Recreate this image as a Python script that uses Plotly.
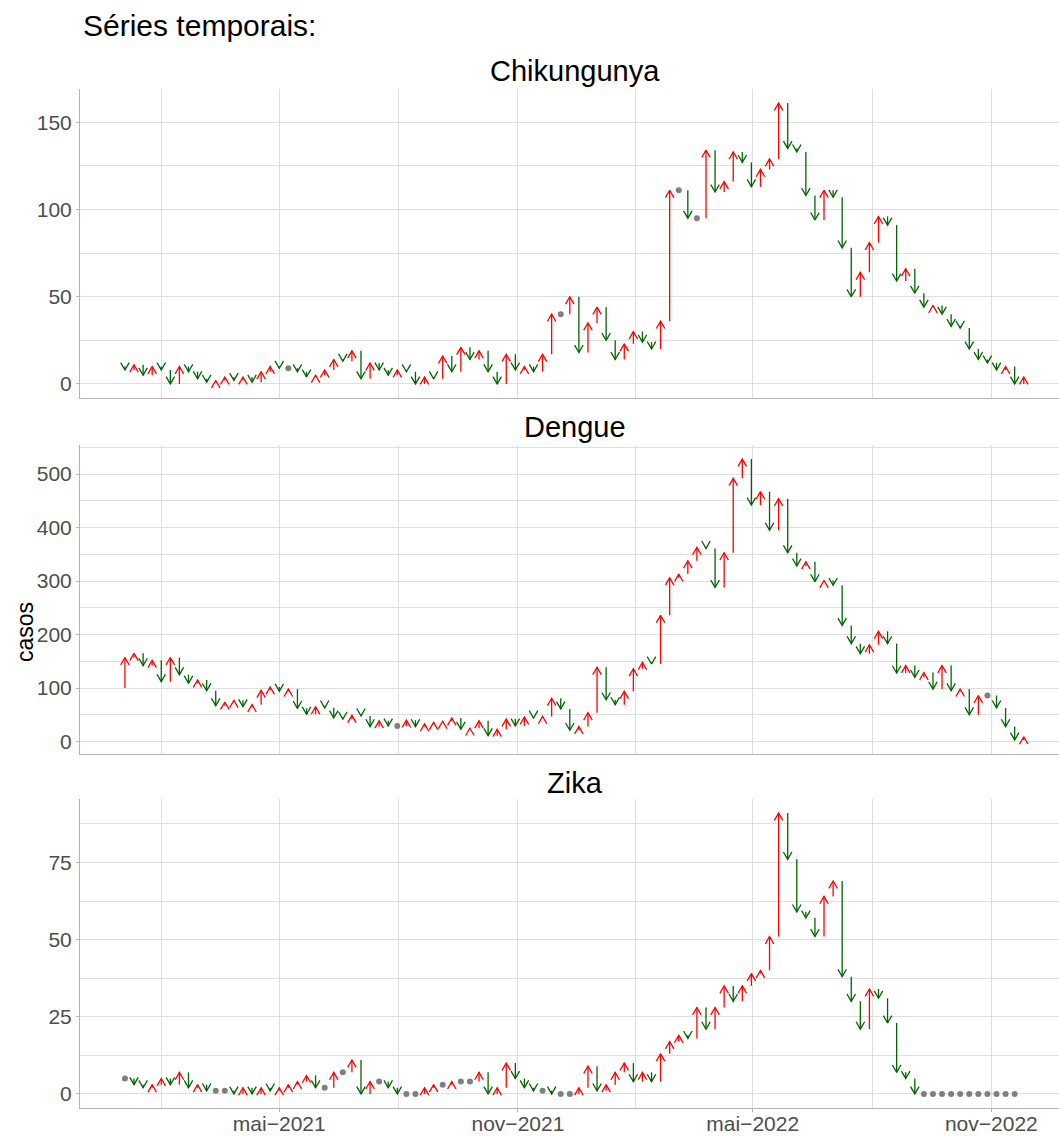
import math
import pandas as pd
import plotly.graph_objects as go

# ---------------- DATA ----------------
# Weekly dates (Saturday closing each epidemiological week).
# The first entry is the week before the chart starts: it only supplies the tail of the first arrow.
semanas = pd.date_range("2020-12-26", periods=101, freq="7D")

chikungunya = [10,
    8, 11, 5, 10, 8, 0, 10, 7, 3, 1,
    2, 4, 2, 4, 1, 7, 10, 9, 9, 7,
    4, 5, 8, 14, 13, 19, 3, 12, 8, 5,
    8, 7, 0, 4, 3, 16, 7, 21, 14, 19,
    7, 0, 17, 8, 10, 7, 17, 40, 40, 50,
    18, 35, 44, 25, 14, 23, 30, 24, 20, 36,
    111, 111, 95, 95, 134, 110, 116, 133, 127, 113,
    123, 129, 161, 135, 133, 108, 94, 111, 107, 78,
    50, 64, 81, 96, 91, 59, 66, 52, 44, 45,
    40, 33, 32, 20, 14, 12, 8, 10, 0, 4]

dengue = [100,
    157, 165, 142, 152, 112, 157, 125, 109, 115, 95,
    67, 74, 77, 65, 69, 96, 102, 94, 98, 62,
    51, 65, 63, 44, 42, 49, 48, 28, 39, 29,
    29, 40, 28, 33, 36, 38, 44, 23, 25, 39,
    11, 23, 42, 29, 46, 44, 47, 81, 61, 21,
    28, 54, 139, 78, 69, 94, 136, 148, 145, 236,
    306, 313, 338, 363, 361, 288, 353, 492, 528, 442,
    467, 395, 454, 353, 328, 336, 299, 301, 292, 217,
    183, 164, 181, 206, 183, 128, 142, 120, 129, 98,
    142, 95, 98, 50, 86, 86, 63, 28, 3, 9]

zika = [5,
    5, 3, 2, 3, 5, 3, 7, 2, 3, 1,
    1, 1, 0, 2, 0, 2, 1, 2, 3, 4,
    6, 2, 2, 7, 7, 11, 0, 4, 4, 2,
    0, 0, 0, 2, 3, 3, 4, 4, 4, 7,
    0, 2, 10, 5, 2, 1, 1, 0, 0, 0,
    2, 9, 1, 3, 7, 10, 4, 7, 4, 13,
    17, 19, 18, 28, 21, 28, 35, 30, 35, 39,
    40, 51, 91, 76, 59, 57, 51, 64, 69, 38,
    30, 21, 34, 31, 23, 7, 5, 0, 0, 0,
    0, 0, 0, 0, 0, 0, 0, 0, 0, None]

doencas = ["Chikungunya", "Dengue", "Zika"]
series = [chikungunya, dengue, zika]

y_tick_vals = [[0, 50, 100, 150], [0, 100, 200, 300, 400, 500], [0, 25, 50, 75]]
y_minor_step = [25, 50, 12.5]

x_tick_vals = ["2021-05-01", "2021-11-01", "2022-05-01", "2022-11-01"]
x_tick_text = ["mai\u22122021", "nov\u22122021", "mai\u22122022", "nov\u22122022"]
x_minor_vals = ["2021-01-30 12:00", "2021-08-01", "2022-01-30 12:00", "2022-08-01"]

titulo = "Séries temporais:"
y_titulo = "casos"

# ---------------- STYLE / LAYOUT ----------------
W, H = 1059, 1136
ML, MR, MT, MB = 80, 0, 89, 28
PW, PH = W - ML - MR, H - MT - MB
panel_px = [(89, 398), (445, 754), (799, 1108)]  # (top, bottom) in pixels
FONT = "Liberation Sans, Arial, Helvetica, sans-serif"
RED, GREEN, GREY = "#FF0000", "#006400", "#7F7F7F"
GRID = "#DFDFDF"
AXLINE = "#B3B3B3"

# x range: ggplot-like 5% expansion, right side cropped by the picture edge
dates = semanas[1:]
span = dates[-1] - dates[0]
xr0 = dates[0] - 0.05 * span
full_right = dates[-1] + 0.05 * span
xr1 = xr0 + (full_right - xr0) * 0.9902
px_per_ms = PW / ((xr1 - xr0).total_seconds() * 1000)

HEAD = 8.5  # arrow head length in px, 30 degree angle
hh_px = HEAD * math.cos(math.radians(30))
hw_px = HEAD * math.sin(math.radians(30))
hw = pd.Timedelta(milliseconds=hw_px / px_per_ms)

fig = go.Figure()


def iso(t):
    return t.strftime("%Y-%m-%d %H:%M:%S.%f")


for p, (nome, vals) in enumerate(zip(doencas, series), start=1):
    top, bot = panel_px[p - 1]
    valid = [v for v in vals if v is not None]
    lo, hi = min(valid), max(valid)
    yr0, yr1 = lo - 0.05 * (hi - lo), hi + 0.05 * (hi - lo)
    px_per_unit = (bot - top) / (yr1 - yr0)
    hh = hh_px / px_per_unit

    ux, uy, dx, dy, ex, ey = [], [], [], [], [], []
    for d, a, b in zip(dates, vals[:-1], vals[1:]):
        if a is None or b is None:
            continue
        if b > a:
            ux += [iso(d), iso(d), None, iso(d - hw), iso(d), iso(d + hw), None]
            uy += [a, b, None, b - hh, b, b - hh, None]
        elif b < a:
            dx += [iso(d), iso(d), None, iso(d - hw), iso(d), iso(d + hw), None]
            dy += [a, b, None, b + hh, b, b + hh, None]
        else:
            ex.append(iso(d))
            ey.append(b)

    xa = "x" if p == 1 else f"x{p}"
    ya = "y" if p == 1 else f"y{p}"
    fig.add_trace(go.Scatter(x=ux, y=uy, mode="lines", xaxis=xa, yaxis=ya,
                             line=dict(color=RED, width=1.3), hoverinfo="skip", showlegend=False))
    fig.add_trace(go.Scatter(x=dx, y=dy, mode="lines", xaxis=xa, yaxis=ya,
                             line=dict(color=GREEN, width=1.3), hoverinfo="skip", showlegend=False))
    fig.add_trace(go.Scatter(x=ex, y=ey, mode="markers", xaxis=xa, yaxis=ya,
                             marker=dict(color=GREY, size=6), hoverinfo="skip", showlegend=False))

    dom = [(H - MB - bot) / PH, (H - MB - top) / PH]
    bottom_panel = p == len(doencas)
    xkey = "xaxis" if p == 1 else f"xaxis{p}"
    ykey = "yaxis" if p == 1 else f"yaxis{p}"
    fig.layout[xkey] = dict(
        domain=[0, 1], anchor=ya, type="date", range=[iso(xr0), iso(xr1)],
        tickmode="array", tickvals=x_tick_vals, ticktext=x_tick_text,
        showticklabels=bottom_panel, ticks="outside" if bottom_panel else "",
        ticklen=3, tickcolor=AXLINE, automargin=False, ticklabelstandoff=-6,
        tickfont=dict(family=FONT, size=21, color="#4D4D4D"),
        showgrid=True, gridcolor=GRID, gridwidth=1,
        minor=dict(tickmode="array", tickvals=x_minor_vals, showgrid=True,
                   gridcolor=GRID, gridwidth=1, ticks=""),
        showline=True, linecolor=AXLINE, linewidth=1, zeroline=False,
    )
    fig.layout[ykey] = dict(
        domain=dom, anchor=xa, range=[yr0, yr1],
        tickmode="array", tickvals=y_tick_vals[p - 1],
        ticks="outside", ticklen=3, tickcolor=AXLINE, automargin=False,
        tickfont=dict(family=FONT, size=21, color="#4D4D4D"),
        showgrid=True, gridcolor=GRID, gridwidth=1,
        minor=dict(dtick=y_minor_step[p - 1], tick0=0, showgrid=True,
                   gridcolor=GRID, gridwidth=1, ticks=""),
        showline=True, linecolor=AXLINE, linewidth=1, zeroline=False,
    )


def py(pix):
    return (H - MB - pix) / PH


def px(pix):
    return (pix - ML) / PW


annotations = [
    dict(text=titulo, x=px(81), y=py(26), xref="paper", yref="paper",
         xanchor="left", yanchor="middle", showarrow=False,
         font=dict(family=FONT, size=30, color="black")),
    dict(text=y_titulo, x=px(25), y=py(632), xref="paper", yref="paper",
         xanchor="center", yanchor="middle", textangle=-90, showarrow=False,
         font=dict(family=FONT, size=23, color="black")),
]
strip_y = [71.5, 427, 783]
for nome, sy in zip(doencas, strip_y):
    annotations.append(dict(text=nome, x=px(575), y=py(sy), xref="paper", yref="paper",
                            xanchor="center", yanchor="middle", showarrow=False,
                            font=dict(family=FONT, size=29, color="black")))

fig.update_layout(
    width=W, height=H,
    margin=dict(l=ML, r=MR, t=MT, b=MB, autoexpand=False),
    paper_bgcolor="white", plot_bgcolor="white",
    annotations=annotations,
    showlegend=False,
)

fig.write_html(
    "out.html",
    config={"displayModeBar": False},
    post_script="document.body.style.margin='0px';document.body.style.overflow='hidden';",
)
